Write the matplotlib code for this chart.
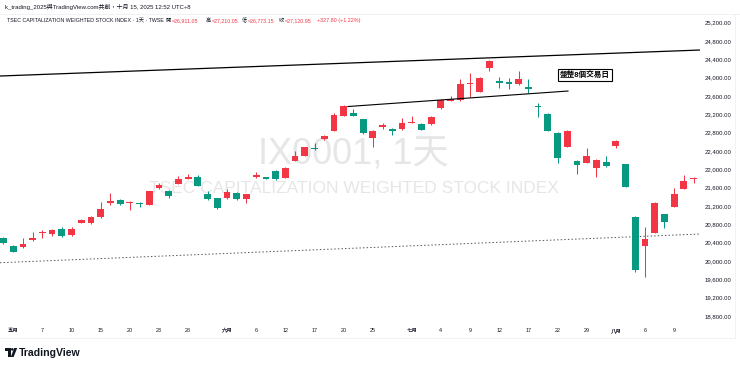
import matplotlib
matplotlib.use('Agg')
import matplotlib.pyplot as plt
from matplotlib.patches import Polygon, Circle
import numpy as np

plt.rcParams['font.family'] = ['Liberation Sans', 'Noto Sans CJK TC', 'DejaVu Sans']

# 交易日 (2024/04/30 ~ 2024/08/13)
dates = ['04-30',
         '05-02', '05-03', '05-06', '05-07', '05-08', '05-09', '05-10', '05-13', '05-14', '05-15', '05-16',
         '05-17', '05-20', '05-21', '05-22', '05-23', '05-24', '05-27', '05-28', '05-29', '05-30', '05-31',
         '06-03', '06-04', '06-05', '06-06', '06-07', '06-11', '06-12', '06-13', '06-14', '06-17', '06-18',
         '06-19', '06-20', '06-21', '06-24', '06-25', '06-26', '06-27', '06-28',
         '07-01', '07-02', '07-03', '07-04', '07-05', '07-08', '07-09', '07-10', '07-11', '07-12', '07-15',
         '07-16', '07-17', '07-18', '07-19', '07-22', '07-23', '07-26', '07-29', '07-30', '07-31',
         '08-01', '08-02', '08-05', '08-06', '08-07', '08-08', '08-09', '08-12', '08-13']

opens = [20501, 20327, 20305, 20458, 20610, 20588, 20691, 20560, 20835, 20822, 20953, 21271, 21330, 21254,
         21245, 21221, 21585, 21533, 21679, 21795, 21825, 21461, 21367, 21367, 21489, 21358, 21832, 21825,
         21963, 21816, 22187, 22290, 22471, 22654, 22835, 23169, 23221, 23090, 22676, 22916, 22879, 22872,
         23016, 22988, 22981, 23330, 23496, 23511, 23860, 23692, 24202, 23925, 23904, 23853, 23801, 23380,
         23206, 22798, 22492, 22181, 22144, 22021, 22165, 22514, 22115, 20966, 20327, 20617, 21018, 21184,
         21570, 21781]
highs = [20520, 20340, 20495, 20626, 20676, 20691, 20735, 20735, 20905, 20980, 21293, 21489, 21345, 21315,
         21293, 21535, 21694, 21545, 21853, 21897, 21882, 21533, 21380, 21563, 21500, 21470, 21947, 21840,
         21975, 22045, 22405, 22490, 22567, 22740, 23234, 23395, 23308, 23100, 22855, 23016, 22890, 23112,
         23162, 23000, 23160, 23525, 23598, 23963, 24093, 24019, 24375, 24019, 23984, 24150, 23963, 23439,
         23220, 22810, 22855, 22195, 22458, 22215, 22290, 22630, 22125, 20980, 20735, 21285, 21030, 21585,
         21875, 21838]
lows = [20375, 20195, 20283, 20442, 20501, 20545, 20530, 20550, 20825, 20815, 20945, 21221, 21225, 21112,
        21171, 21215, 21575, 21367, 21670, 21785, 21625, 21335, 21140, 21355, 21335, 21265, 21820, 21785,
        21770, 21805, 22180, 22280, 22425, 22645, 22825, 23160, 23160, 22775, 22492, 22872, 22748, 22860,
        23005, 22850, 22970, 23320, 23485, 23500, 23583, 23680, 24143, 23766, 23744, 23840, 23670, 23147,
        22825, 22131, 22480, 21891, 22130, 21821, 22060, 22458, 21610, 19767, 19657, 20605, 20713, 21170,
        21560, 21694]
closes = [20392, 20202, 20364, 20501, 20632, 20676, 20545, 20691, 20894, 20966, 21127, 21308, 21236, 21265,
          21236, 21526, 21657, 21417, 21781, 21838, 21636, 21345, 21149, 21504, 21345, 21461, 21875, 21795,
          21781, 22035, 22296, 22479, 22436, 22726, 23184, 23380, 23169, 22785, 22841, 22966, 22828, 23016,
          23038, 22862, 23147, 23511, 23533, 23853, 23888, 23984, 24362, 23888, 23853, 23969, 23744, 23352,
          22835, 22240, 22841, 22093, 22296, 22202, 22072, 22617, 21620, 19805, 20479, 21271, 20857, 21454,
          21751, 21803]

# 時間軸標籤
tick_dates = ['05-02', '05-07', '05-10', '05-15', '05-20', '05-23', '05-28', '06-03', '06-06', '06-12',
              '06-17', '06-20', '06-25', '07-01', '07-04', '07-09', '07-12', '07-17', '07-22', '07-29',
              '08-01', '08-06', '08-09']
tick_labels = ['五月', '7', '10', '15', '20', '23', '28', '六月', '6', '12', '17', '20', '25', '七月', '4',
               '9', '12', '17', '22', '29', '八月', '6', '9']
price_ticks = list(range(18800, 25201, 400))

# 趨勢線 (日期, 價格)
top_line = [('05-02', 24045), ('08-13', 24596)]
range_line = [(35.44, 23369), (58.08, 23707)]
support_line = [(-0.358, 19962), (71.66, 20588)]

RED = '#F23645'
GREEN = '#089981'
W, H = 740, 367

fig = plt.figure(figsize=(W / 100, H / 100), dpi=100)
fig.patch.set_facecolor('white')

# 背景層(像素座標): 標題、浮水印、logo
bg = fig.add_axes([0, 0, 1, 1], zorder=0)
bg.set_xlim(0, W)
bg.set_ylim(H, 0)
bg.axis('off')

bg.text(5, 7, 'k_trading_2025與TradingView.com共創，十月 15, 2025 12:52 UTC+8', fontsize=4.3,
        color='#131722', va='center', ha='left')
bg.plot([0, W], [13.5, 13.5], color='#eef0f4', lw=0.6)
bg.text(7, 20.5, 'TSEC CAPITALIZATION WEIGHTED STOCK INDEX · 1天 · TWSE', fontsize=3.75,
        color='#131722', va='center', ha='left')
ohlc_head = [(166, '開', '=26,911.05'), (206, '高', '=27,210.05'), (242, '低', '=26,773.15'),
             (279, '收', '=27,120.95')]
for hx, lab, val in ohlc_head:
    bg.text(hx, 20.5, lab, fontsize=3.75, color='#131722', va='center', ha='left')
    bg.text(hx + 5.4, 20.5, val, fontsize=3.75, color=RED, va='center', ha='left')
bg.text(317, 20.5, '+327.80 (+1.22%)', fontsize=3.9, color=RED, va='center', ha='left')

# 浮水印
bg.text(353, 155, 'IX0001, 1天', fontsize=26, color='#e6e6e6', va='center', ha='center')
bg.text(354, 188.5, 'TSEC CAPITALIZATION WEIGHTED STOCK INDEX', fontsize=12.5, color='#e6e6e6',
        va='center', ha='center')

# 邊框
bg.plot([0, 735], [337.5, 337.5], color='#eef0f4', lw=0.6)
bg.plot([735, 735], [13.5, 337.5], color='#eef0f4', lw=0.6)

# TradingView logo
bg.add_patch(Polygon([[5, 348], [10.5, 348], [10.5, 357], [8, 357], [8, 350.6], [5, 350.6]],
                     closed=True, color='#131722', lw=0))
bg.add_patch(Circle((12.3, 349.4), 1.3, color='#131722', lw=0))
bg.add_patch(Polygon([[14.2, 348], [17.2, 348], [13.6, 357], [10.8, 357]], closed=True,
                     color='#131722', lw=0))
bg.text(18.5, 352.5, 'TradingView', fontsize=7.6, fontweight='bold', color='#131722',
        va='center', ha='left')

# 主圖
ax = fig.add_axes([0, 1 - 322 / H, 700 / W, (322 - 14) / H], zorder=1)
ax.set_facecolor('none')

x = np.arange(len(dates))
o = np.array(opens)
c = np.array(closes)
colors = [RED if cc >= oo else GREEN for oo, cc in zip(o, c)]
ax.vlines(x, lows, highs, colors=colors, lw=0.75, zorder=2)
body = np.maximum(np.abs(c - o), 25)
ax.bar(x, body, bottom=np.minimum(o, c), width=0.7, color=colors, lw=0, zorder=3)

# 趨勢線
tx = [dates.index(d) for d, p in top_line]
ty = [p for d, p in top_line]
ax.axline((tx[0], ty[0]), (tx[1], ty[1]), color='black', lw=0.9, zorder=4)
ax.plot([p[0] for p in range_line], [p[1] for p in range_line], color='black', lw=0.8, zorder=4)
ax.plot([p[0] for p in support_line], [p[1] for p in support_line], color='#555555', lw=0.7,
        linestyle=(0, (1.5, 2.2)), zorder=1)

ax.text(59.83, 24056, '盤整8個交易日', fontsize=5.5, fontweight='bold', color='black',
        ha='center', va='center', zorder=5,
        bbox=dict(boxstyle='square,pad=0.25', fc='white', ec='black', lw=0.8))

ax.set_xlim(-0.358, 71.66)
ax.set_ylim(18669, 25387)
for s in ax.spines.values():
    s.set_visible(False)

ax.yaxis.tick_right()
ax.set_yticks(price_ticks)
ax.set_yticklabels(['{:,.2f}'.format(p) for p in price_ticks])
ax.tick_params(axis='y', length=0, pad=3.6, labelsize=4.3, labelcolor='#131722')

ax.set_xticks([dates.index(d) for d in tick_dates])
ax.set_xticklabels(tick_labels)
ax.tick_params(axis='x', length=0, pad=4.5, labelsize=3.9, labelcolor='#131722')
for lab in ax.get_xticklabels():
    if '月' in lab.get_text():
        lab.set_fontweight('bold')

fig.savefig('out.png', dpi=100, facecolor='white')
